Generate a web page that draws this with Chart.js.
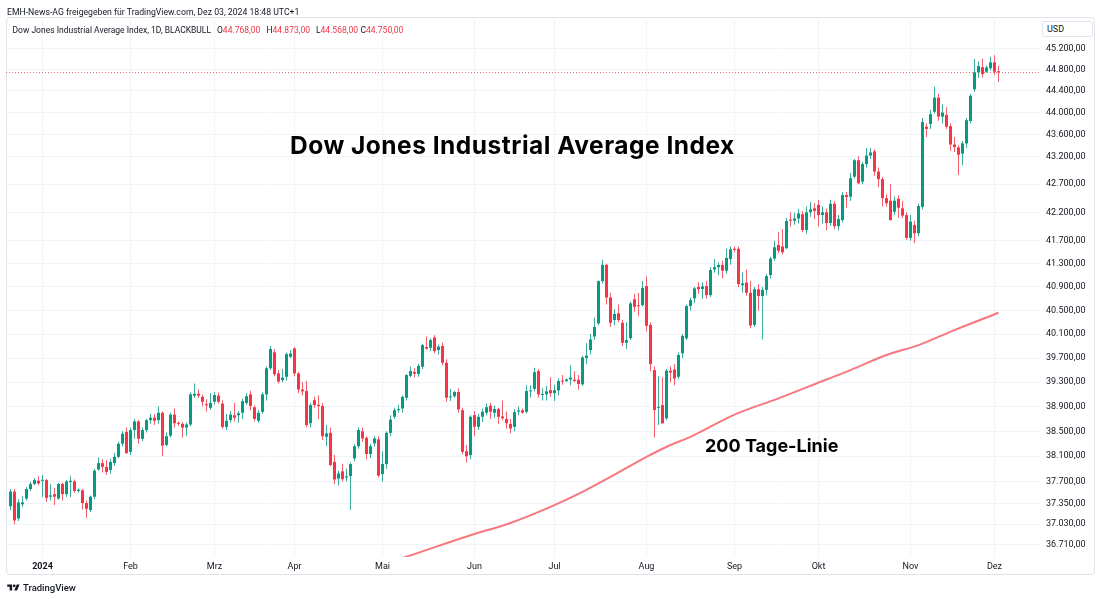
<!DOCTYPE html>
<html><head><meta charset="utf-8">
<script src="https://cdn.jsdelivr.net/npm/chart.js@4.4.1/dist/chart.umd.min.js"></script>
<style>
html,body{margin:0;padding:0;background:#fff;}
#wrap{position:relative;width:1100px;height:599px;overflow:hidden;font-family:Roboto,"Liberation Sans",sans-serif;color:#131722;}
#frame{position:absolute;left:6px;top:17px;width:1089px;height:558px;border:1px solid #e0e3eb;border-radius:4px;box-sizing:border-box;}
canvas{position:absolute;left:0;top:0;}
.t{position:absolute;white-space:nowrap;line-height:1;}
.red{color:#F23645;}
#usd{position:absolute;left:1042px;top:21px;width:51px;height:16px;border:1px solid #e0e3eb;border-radius:3px;box-sizing:border-box;font-size:9px;line-height:14px;padding-left:4px;color:#131722;background:#fff;}
.ann{position:absolute;white-space:nowrap;line-height:1;font-family:Inter,"Liberation Sans",sans-serif;font-weight:700;color:#000;}
</style></head>
<body>
<div id="wrap">
  <div id="frame"></div>
  <canvas id="c" width="1100" height="599"></canvas>
  <div class="t" style="left:7px;top:8.3px;font-size:8.7px;">EMH-News-AG freigegeben für TradingView.com, Dez 03, 2024 18:48 UTC+1</div>
  <div class="t" style="left:12.5px;top:26.2px;font-size:8.5px;">Dow Jones Industrial Average Index, 1D, BLACKBULL</div>
  <div class="t" style="left:217px;top:26.2px;font-size:8.5px;">O<span class="red">44.768,00</span></div>
  <div class="t" style="left:266.5px;top:26.2px;font-size:8.5px;">H<span class="red">44.873,00</span></div>
  <div class="t" style="left:316px;top:26.2px;font-size:8.5px;">L<span class="red">44.568,00</span></div>
  <div class="t" style="left:360.5px;top:26.2px;font-size:8.5px;">C<span class="red">44.750,00</span></div>
  <div id="usd">USD</div>
  <div class="ann" style="left:290px;top:133.2px;font-size:24.5px;letter-spacing:0.5px;">Dow Jones Industrial Average Index</div>
  <div class="ann" style="left:705px;top:437.2px;font-size:18px;">200 Tage-Linie</div>
  <svg style="position:absolute;left:7px;top:583px;" width="13" height="9" viewBox="0 0 36 26"><path d="M14 22H7V11H0V4h14v18z" fill="#131722"/><circle cx="20" cy="8" r="4" fill="#131722"/><path d="M28 22h-8l7.5-18h8L28 22z" fill="#131722"/></svg>
  <div class="t" style="left:23px;top:583px;font-size:9.5px;font-weight:500;">TradingView</div>
</div>
<script>
// ---- categories: trading days shown (daily candles, CFD incl. US holiday sessions)
const dates = [
'2023-12-19','2023-12-20','2023-12-21','2023-12-22','2023-12-26','2023-12-27','2023-12-28','2023-12-29',
'2024-01-02','2024-01-03','2024-01-04','2024-01-05','2024-01-08','2024-01-09','2024-01-10','2024-01-11','2024-01-12','2024-01-15','2024-01-16','2024-01-17','2024-01-18','2024-01-19','2024-01-22','2024-01-23','2024-01-24','2024-01-25','2024-01-26','2024-01-29','2024-01-30','2024-01-31',
'2024-02-01','2024-02-02','2024-02-05','2024-02-06','2024-02-07','2024-02-08','2024-02-09','2024-02-12','2024-02-13','2024-02-14','2024-02-15','2024-02-16','2024-02-19','2024-02-20','2024-02-21','2024-02-22','2024-02-23','2024-02-26','2024-02-27','2024-02-28','2024-02-29',
'2024-03-01','2024-03-04','2024-03-05','2024-03-06','2024-03-07','2024-03-08','2024-03-11','2024-03-12','2024-03-13','2024-03-14','2024-03-15','2024-03-18','2024-03-19','2024-03-20','2024-03-21','2024-03-22','2024-03-25','2024-03-26','2024-03-27','2024-03-28',
'2024-04-01','2024-04-02','2024-04-03','2024-04-04','2024-04-05','2024-04-08','2024-04-09','2024-04-10','2024-04-11','2024-04-12','2024-04-15','2024-04-16','2024-04-17','2024-04-18','2024-04-19','2024-04-22','2024-04-23','2024-04-24','2024-04-25','2024-04-26','2024-04-29','2024-04-30',
'2024-05-01','2024-05-02','2024-05-03','2024-05-06','2024-05-07','2024-05-08','2024-05-09','2024-05-10','2024-05-13','2024-05-14','2024-05-15','2024-05-16','2024-05-17','2024-05-20','2024-05-21','2024-05-22','2024-05-23','2024-05-24','2024-05-27','2024-05-28','2024-05-29','2024-05-30','2024-05-31',
'2024-06-03','2024-06-04','2024-06-05','2024-06-06','2024-06-07','2024-06-10','2024-06-11','2024-06-12','2024-06-13','2024-06-14','2024-06-17','2024-06-18','2024-06-19','2024-06-20','2024-06-21','2024-06-24','2024-06-25','2024-06-26','2024-06-27','2024-06-28',
'2024-07-01','2024-07-02','2024-07-03','2024-07-04','2024-07-05','2024-07-08','2024-07-09','2024-07-10','2024-07-11','2024-07-12','2024-07-15','2024-07-16','2024-07-17','2024-07-18','2024-07-19','2024-07-22','2024-07-23','2024-07-24','2024-07-25','2024-07-26','2024-07-29','2024-07-30','2024-07-31',
'2024-08-01','2024-08-02','2024-08-05','2024-08-06','2024-08-07','2024-08-08','2024-08-09','2024-08-12','2024-08-13','2024-08-14','2024-08-15','2024-08-16','2024-08-19','2024-08-20','2024-08-21','2024-08-22','2024-08-23','2024-08-26','2024-08-27','2024-08-28','2024-08-29','2024-08-30',
'2024-09-02','2024-09-03','2024-09-04','2024-09-05','2024-09-06','2024-09-09','2024-09-10','2024-09-11','2024-09-12','2024-09-13','2024-09-16','2024-09-17','2024-09-18','2024-09-19','2024-09-20','2024-09-23','2024-09-24','2024-09-25','2024-09-26','2024-09-27','2024-09-30',
'2024-10-01','2024-10-02','2024-10-03','2024-10-04','2024-10-07','2024-10-08','2024-10-09','2024-10-10','2024-10-11','2024-10-14','2024-10-15','2024-10-16','2024-10-17','2024-10-18','2024-10-21','2024-10-22','2024-10-23','2024-10-24','2024-10-25','2024-10-28','2024-10-29','2024-10-30','2024-10-31',
'2024-11-01','2024-11-04','2024-11-05','2024-11-06','2024-11-07','2024-11-08','2024-11-11','2024-11-12','2024-11-13','2024-11-14','2024-11-15','2024-11-18','2024-11-19','2024-11-20','2024-11-21','2024-11-22','2024-11-25','2024-11-26','2024-11-27','2024-11-28','2024-11-29',
'2024-12-02','2024-12-03'
];
const open = [
37310,37540,37120,37340,37430,37580,37660,37710,
37710,37720,37460,37500,37430,37660,37500,37690,37700,37550,37560,37360,37250,37460,37890,37990,37930,37880,37990,38090,38300,38490,
38170,38520,38660,38380,38520,38680,38720,38680,38800,38280,38430,38770,38630,38620,38560,38610,39080,39110,39060,38940,38880,
38980,39080,38950,38570,38680,38760,38760,38800,38960,39100,38890,38670,38815,39100,39530,39795,39445,39335,39390,39720,
39860,39445,39180,39155,38630,39005,38930,38910,38410,38475,38010,37745,37860,37760,37785,38065,38260,38500,38395,38135,38305,38370,
37815,37975,38475,38735,38843,38870,39045,39405,39470,39435,39555,39883,39870,40045,39833,39900,39620,39050,39070,39140,38843,38180,38118,
38762,38573,38735,38800,38915,38800,38860,38740,38700,38620,38573,38820,38840,38816,39150,39190,39485,39090,39100,39170,
39120,39165,39320,39320,39345,39340,39340,39265,39700,39833,40060,40280,41000,41280,40720,40337,40450,40290,39955,40030,40690,40580,40590,
40915,40255,39500,38880,38925,38710,39490,39510,39390,39780,40030,40575,40705,40900,40865,40915,40760,41200,41240,41280,41180,41380,
41560,41560,40930,40975,40800,40255,40860,40745,40850,41105,41390,41625,41600,41570,42070,42050,42090,42165,41887,42200,42270,
42330,42150,42200,42010,42350,41955,42063,42505,42475,42835,43130,42745,43060,43215,43290,42925,42790,42450,42405,42210,42440,42270,42150,
41750,41975,41830,42295,43740,43790,44015,44275,43925,43955,43750,43415,43360,43250,43435,43845,44430,44745,44845,44760,44825,
44935,44768
];
const high = [
37580,37580,37420,37470,37610,37690,37750,37780,
37800,37740,37660,37600,37680,37680,37720,37780,37730,37590,37580,37400,37480,37900,38080,38050,38040,38060,38150,38330,38500,38560,
38560,38700,38680,38560,38700,38780,38780,38900,38820,38480,38800,38870,38660,38650,38640,39130,39280,39180,39100,39020,39120,
39140,39130,39000,38780,38830,38960,38830,39030,39120,39160,38920,38850,39130,39560,39900,39850,39500,39520,39790,39830,
39880,39470,39300,39320,38960,39060,39080,38960,38600,38560,38120,37870,37980,37900,38000,38290,38560,38560,38420,38300,38420,38420,
38180,38500,38760,38880,38930,39080,39430,39560,39530,39600,39940,40060,40030,40080,39920,39960,39680,39190,39160,39200,38880,38280,38760,
38830,38780,38870,38950,38960,38920,38880,39000,38820,38700,38860,38900,38870,39250,39250,39540,39520,39200,39240,39380,
39260,39360,39420,39360,39580,39480,39420,39740,39950,40100,40380,41010,41370,41300,40800,40520,40600,40340,40300,40650,40780,40800,41000,
41080,40300,39560,39400,39380,39520,39560,39600,39790,40100,40600,40720,40900,40980,40980,41000,41240,41380,41320,41350,41560,41600,
41600,41600,41150,41200,41000,40900,40950,40900,41120,41420,41700,41850,41900,42100,42200,42190,42260,42220,42300,42380,42360,
42420,42300,42260,42420,42400,42150,42560,42560,42900,43150,43200,43100,43350,43350,43330,43000,42830,42520,42700,42480,42500,42400,42200,
42150,42050,42350,43900,43800,44050,44480,44350,44150,44100,43800,43550,43400,43480,43900,44350,45000,44950,45010,44880,45040,
45070,44873
];
const low = [
37250,37030,37080,37300,37400,37550,37640,37640,
37460,37380,37400,37330,37410,37400,37460,37450,37520,37520,37260,37130,37220,37420,37870,37840,37800,37820,37950,38070,38260,38140,
38120,38380,38300,38340,38480,38620,38600,38620,38100,38260,38400,38560,38590,38400,38430,38580,39040,39040,38900,38820,38850,
38940,38950,38540,38520,38640,38660,38640,38700,38930,38840,38660,38640,38780,39000,39500,39400,39280,39300,39330,39700,
39400,39120,39080,38560,38560,38880,38700,38360,38260,37940,37660,37640,37700,37700,37250,38020,38220,38330,38050,38070,38250,37760,
37695,37900,38420,38700,38800,38800,39000,39380,39380,39390,39520,39840,39820,39780,39760,39580,38980,38990,39040,38800,38130,38000,38050,
38420,38520,38650,38760,38700,38720,38620,38680,38540,38470,38500,38760,38790,38790,39050,39150,39050,39000,39000,39060,
38990,39080,39260,39300,39250,39300,39180,39240,39600,39760,40000,40250,40960,40600,40220,40250,40300,39900,39850,40000,40480,40400,40560,
40150,39480,38400,38600,38620,38680,39300,39250,39350,39700,40000,40500,40620,40780,40700,40700,40730,41150,41100,41050,41130,41280,
41500,40900,40800,40750,40200,40220,40500,40010,40760,41050,41350,41480,41460,41550,41950,41980,42000,41850,41820,42120,42080,
41950,42000,41880,41960,41900,41880,42020,42280,42400,42800,42700,42700,43000,43150,42850,42650,42300,42300,42050,42150,42100,42100,41720,
41700,41660,41780,42250,43550,43700,43980,43850,43800,43700,43300,43280,42865,43040,43350,43800,44380,44640,44650,44740,44780,
44700,44568
];
const close = [
37540,37090,37370,37370,37580,37660,37720,37670,
37720,37440,37480,37460,37660,37500,37700,37710,37550,37570,37360,37270,37460,37870,37990,37930,37850,38010,38090,38300,38460,38150,
38520,38660,38380,38520,38680,38720,38670,38800,38270,38420,38770,38630,38620,38560,38610,39100,39110,39080,38980,38920,38960,
39090,38980,38570,38670,38770,38720,38790,38990,39070,38910,38700,38800,39100,39530,39850,39430,39310,39375,39765,39775,
39445,39180,39150,38600,38925,38925,38910,38420,38465,37960,37730,37825,37735,37780,37975,38260,38520,38385,38135,38260,38385,37790,
37975,38475,38690,38843,38860,39060,39418,39485,39440,39570,39917,39855,40000,39815,39890,39620,39045,39060,39140,38855,38170,38100,38735,
38573,38735,38816,38890,38816,38860,38735,38710,38630,38545,38810,38840,38800,39155,39165,39465,39100,39100,39150,39120,
39170,39320,39310,39345,39375,39320,39270,39710,39740,40010,40220,41000,41280,40720,40290,40440,40337,39955,40000,40620,40560,40570,40885,
40240,39600,38843,38895,38630,39490,39460,39360,39750,40070,40575,40676,40875,40860,40910,40760,41191,41240,41280,41180,41400,41550,
41540,40950,40960,40800,40245,40860,40745,40850,41085,41390,41585,41525,41500,42045,42050,42090,42180,41887,42200,42250,42225,
42150,42200,42010,42350,41955,42080,42505,42470,42805,43130,42715,43060,43215,43270,42925,42790,42450,42360,42063,42405,42280,42140,41750,
42035,41830,42310,43825,43700,43970,44275,43925,44000,43740,43415,43370,43230,43435,43860,44310,44745,44865,44715,44840,44935,
44760,44750
];
// 200-day moving average at these candle positions
const maIndex = [97, 99, 115, 125, 135, 143, 150, 159, 165, 170, 181, 192, 204, 210, 219, 227, 236, 247];
const maValue = [36490, 36530, 36860, 37050, 37300, 37535, 37770, 38090, 38280, 38410, 38770, 39035, 39345, 39500, 39750, 39915, 40168, 40460];
// price-axis tick labels
const yTicks = [36710, 37030, 37350, 37700, 38100, 38500, 38900, 39300, 39700, 40100, 40500, 40900, 41300, 41700, 42200, 42700, 43200, 43600, 44000, 44400, 44800, 45200];
const monthNames = ['Jan','Feb','Mrz','Apr','Mai','Jun','Jul','Aug','Sep','Okt','Nov','Dez'];

const GREEN = '#089981', RED = '#F23645';
const GREEN_WICK = 'rgba(8,153,129,0.8)', RED_WICK = 'rgba(242,54,69,0.8)';
const idx = dates.map((d, i) => i);
const isUp = idx.map(i => close[i] >= open[i]);
const colors = isUp.map(u => u ? GREEN : RED);
const wickColors = isUp.map(u => u ? GREEN_WICK : RED_WICK);
const monthTicks = idx.filter(i => i > 0 && dates[i].slice(0, 7) !== dates[i - 1].slice(0, 7));
function monthLabel(i) {
  const d = dates[Math.round(i)]; if (!d) return '';
  const m = +d.slice(5, 7);
  return m === 1 ? d.slice(0, 4) : monthNames[m - 1];
}
function fmt(v) {
  return String(Math.round(v)).replace(/\B(?=(\d{3})+(?!\d))/g, '.') + ',00';
}
const lastPriceLine = {
  id: 'lastPriceLine',
  beforeDatasetsDraw(chart) {
    const c = chart.ctx, a = chart.chartArea;
    const y = Math.round(chart.scales.y.getPixelForValue(close[close.length - 1])) + 0.5;
    c.save(); c.strokeStyle = 'rgba(242,54,69,0.75)'; c.lineWidth = 1; c.setLineDash([1, 2]);
    c.beginPath(); c.moveTo(a.left, y); c.lineTo(a.right, y); c.stroke(); c.restore();
  }
};
new Chart(document.getElementById('c'), {
  type: 'bar',
  data: {
    datasets: [
      { label: 'body', data: idx.map(i => ({ x: i, y: [open[i], close[i]] })), backgroundColor: colors,
        grouped: false, barPercentage: 1, categoryPercentage: 1, maxBarThickness: 3, minBarLength: 1, inflateAmount: 0, borderWidth: 0, order: 0 },
      { label: 'wick', data: idx.map(i => ({ x: i, y: [low[i], high[i]] })), backgroundColor: wickColors,
        grouped: false, barPercentage: 1, categoryPercentage: 1, maxBarThickness: 1, inflateAmount: 0, borderWidth: 0, order: 1 },
      { type: 'line', label: 'MA200', data: maIndex.map((x, k) => ({ x: x, y: maValue[k] })), borderColor: '#f7787e',
        borderWidth: 2, pointRadius: 0, cubicInterpolationMode: 'monotone', fill: false, order: 2 }
    ]
  },
  options: {
    responsive: false, animation: false, devicePixelRatio: 1,
    layout: { padding: { left: 6, top: 17, right: 5, bottom: 24 } },
    plugins: { legend: { display: false }, tooltip: { enabled: false } },
    scales: {
      x: {
        type: 'linear', min: -1.125, max: 257.375, offset: false,
        afterBuildTicks: s => { s.ticks = monthTicks.map(v => ({ value: v })); },
        afterFit: s => { s.height = 18; },
        grid: { color: '#f0f3fa', drawTicks: false, offset: false }, border: { display: false },
        ticks: {
          autoSkip: false, maxRotation: 0, padding: 4, color: '#131722',
          font: ctx => ({ family: 'Roboto', size: 9, weight: (ctx.tick && /^\d{4}$/.test(monthLabel(ctx.tick.value))) ? 'bold' : 'normal' }),
          callback: v => monthLabel(v)
        }
      },
      y: {
        type: 'logarithmic', position: 'right', min: 36525, max: 45797,
        afterBuildTicks: s => { s.ticks = yTicks.map(v => ({ value: v })); },
        afterFit: s => { s.width = 55; },
        grid: { color: '#f0f3fa', drawTicks: false }, border: { display: false },
        ticks: { autoSkip: false, padding: 6, color: '#131722', font: { family: 'Roboto', size: 9 }, callback: v => fmt(v) }
      }
    }
  },
  plugins: [lastPriceLine]
});
</script>
</body></html>
